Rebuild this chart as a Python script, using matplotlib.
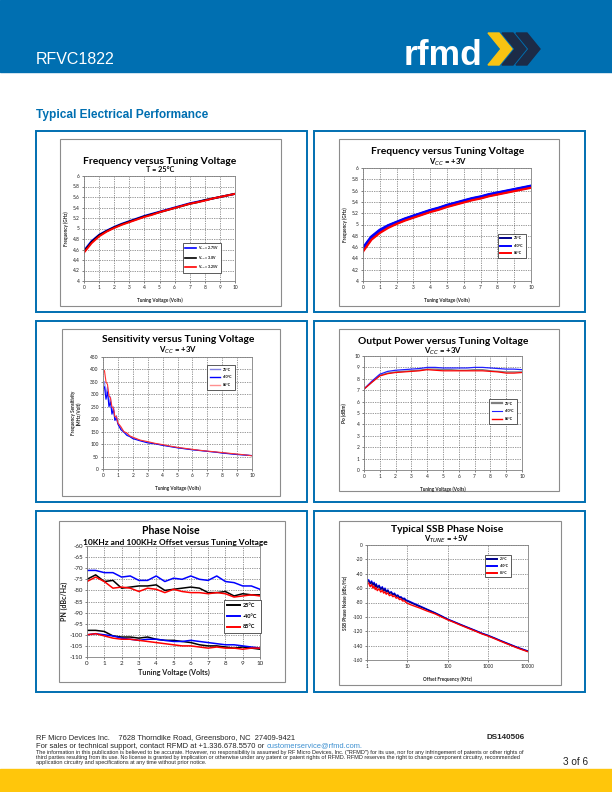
import matplotlib
matplotlib.use('Agg')
import matplotlib.pyplot as plt
from matplotlib.patches import Rectangle, Polygon
from matplotlib.lines import Line2D

plt.rcParams['axes.unicode_minus'] = False

# ---------------- data ----------------
vt = [0, 0.5, 1, 1.5, 2, 2.5, 3, 3.5, 4, 4.5, 5, 5.5, 6, 6.5, 7, 7.5, 8, 8.5, 9, 9.5, 10]

# frequency (GHz) vs tuning voltage, T = 25C, three supply voltages
f_275 = [4.58, 4.76, 4.88, 4.96, 5.03, 5.09, 5.14, 5.19, 5.24, 5.28, 5.32, 5.36, 5.40, 5.44, 5.48, 5.51, 5.54, 5.57, 5.60, 5.63, 5.66]
f_300 = [4.56, 4.74, 4.87, 4.95, 5.02, 5.08, 5.13, 5.18, 5.23, 5.27, 5.31, 5.35, 5.39, 5.43, 5.47, 5.50, 5.54, 5.57, 5.60, 5.63, 5.66]
f_325 = [4.54, 4.72, 4.85, 4.94, 5.01, 5.07, 5.12, 5.17, 5.22, 5.26, 5.31, 5.35, 5.39, 5.43, 5.47, 5.50, 5.53, 5.57, 5.60, 5.63, 5.66]

# frequency vs tuning voltage, Vcc = 3V, three temperatures
ft_25 = [4.56, 4.76, 4.88, 4.97, 5.03, 5.09, 5.14, 5.19, 5.24, 5.28, 5.33, 5.37, 5.41, 5.45, 5.48, 5.52, 5.55, 5.58, 5.61, 5.64, 5.67]
ft_m40 = [4.58, 4.78, 4.90, 4.98, 5.04, 5.10, 5.15, 5.20, 5.25, 5.29, 5.34, 5.38, 5.42, 5.46, 5.49, 5.53, 5.56, 5.59, 5.62, 5.65, 5.68]
ft_85 = [4.52, 4.73, 4.85, 4.94, 5.01, 5.07, 5.12, 5.17, 5.22, 5.26, 5.31, 5.35, 5.39, 5.43, 5.46, 5.50, 5.53, 5.56, 5.59, 5.62, 5.65]

# sensitivity (MHz/V)
sens_v = [0.1, 0.2, 0.3, 0.4, 0.5, 0.6, 0.7, 0.8, 0.9, 1.0, 1.2, 1.4, 1.6, 1.8, 2.0, 2.5, 3.0, 3.5, 4.0, 4.5,
          5, 5.5, 6, 6.5, 7, 7.5, 8, 8.5, 9, 9.5, 10]
sens_25 = [350, 300, 330, 260, 290, 230, 250, 200, 215, 185, 165, 150, 140, 132, 125, 115, 107, 102, 96, 91,
           86, 82, 78, 75, 71, 68, 65, 62, 59, 57, 54]
sens_m40 = [330, 280, 310, 250, 270, 220, 240, 195, 205, 180, 158, 148, 135, 130, 122, 113, 105, 101, 95, 90,
            85, 81, 77, 74, 71, 68, 64, 61, 58, 56, 54]
sens_85 = [395, 350, 340, 295, 285, 250, 245, 210, 210, 185, 170, 150, 145, 133, 128, 116, 110, 103, 98, 92,
           87, 83, 79, 75, 72, 69, 66, 63, 60, 57, 53]

# output power (dBm)
po_25 = [7.1, 7.7, 8.3, 8.5, 8.6, 8.65, 8.7, 8.75, 8.85, 8.85, 8.8, 8.8, 8.75, 8.75, 8.8, 8.8, 8.7, 8.65, 8.6, 8.6, 8.6]
po_m40 = [7.1, 7.8, 8.4, 8.65, 8.75, 8.8, 8.85, 8.9, 9.0, 9.0, 8.95, 8.95, 8.95, 8.95, 9.0, 9.0, 8.95, 8.9, 8.85, 8.85, 8.8]
po_85 = [7.1, 7.7, 8.25, 8.45, 8.55, 8.6, 8.65, 8.7, 8.8, 8.75, 8.7, 8.7, 8.7, 8.7, 8.7, 8.7, 8.65, 8.6, 8.5, 8.5, 8.55]

# phase noise at 10 kHz (upper) and 100 kHz (lower) offsets
pn10_25 = [-75, -73, -76, -75.5, -79, -78.5, -78, -78, -77.5, -80, -79.5, -79, -78.5, -79, -81, -81, -80.5, -82.5, -81.5, -82, -82]
pn10_m40 = [-71, -71, -72, -72, -74, -73.5, -75.5, -75.5, -73.5, -76, -74.5, -75, -73.5, -75, -75.5, -73.5, -76, -76.5, -78, -78, -79.5]
pn10_85 = [-76, -74, -76, -79, -78.5, -79, -80.5, -79, -79.5, -81, -79.5, -80.5, -81, -81, -81.5, -81, -81.5, -83, -82.5, -82, -82.5]
pn100_25 = [-98, -98, -98.5, -100.5, -101, -101, -101.5, -101, -102, -102.5, -102.5, -103, -103.5, -104.5, -105, -105, -105.5, -106, -105.5, -106, -106.5]
pn100_m40 = [-100, -99.5, -100, -100.5, -101.5, -102, -102.5, -102, -102, -102.5, -103, -103, -102.5, -103, -103.5, -104, -104.5, -104.5, -105, -105.5, -106]
pn100_85 = [-100, -99.5, -100.5, -101.5, -102, -102, -102.5, -103, -103.5, -104, -104.5, -105, -105, -105.5, -106, -105.5, -106, -106, -106.5, -106, -106]

# SSB phase noise, Vtune = +5V
ssb_f = [1.1, 1.2, 1.3, 1.4, 1.5, 1.6, 1.7, 1.8, 2.0, 2.2, 2.4, 2.6, 2.8, 3.0, 3.3, 3.6, 4.0, 4.4, 4.8, 5.3,
         5.8, 6.4, 7.0, 7.7, 8.5, 9.3, 10, 12, 15, 20, 30, 50, 70, 100, 150, 200, 300, 500, 700, 1000,
         1500, 2000, 3000, 5000, 7000, 10000]
ssb_m40 = [-48.5, -53, -50, -55, -52, -57, -54, -58.5, -56, -61, -58, -63, -60, -64.5, -62.5, -66.5, -65, -68.5, -67, -70.5,
           -69.5, -72.5, -72, -74.5, -74, -76.5, -77, -79, -81.5, -84.5, -89, -94.5, -98.5, -103, -107, -110, -114, -119, -122.5, -125.5,
           -129.5, -132.5, -136.5, -141.5, -144.5, -147.5]
ssb_25 = [-50, -54, -51.5, -56, -53.5, -58, -55.5, -59.5, -57.5, -62, -59.5, -64, -61.5, -65.5, -63.5, -67.5, -66, -69.5, -68, -71.5,
          -70.5, -73.5, -73, -75.5, -75, -77.5, -78, -80, -82.5, -85.5, -89.5, -95, -99, -103.5, -107.5, -110.5, -114.5, -119.5, -123, -126,
          -130, -133, -137, -142, -145, -148]
ssb_85 = [-53, -58, -55, -60, -57, -62, -59, -63.5, -61, -65.5, -63, -67, -65, -68.5, -66.5, -70.5, -69, -72, -70.5, -74,
          -73, -76, -75, -78, -77.5, -80, -81, -83, -85, -87.5, -91.5, -96, -100, -104, -108, -111, -115, -120, -123.5, -126.5,
          -130.5, -133.5, -137.5, -142.5, -145.5, -148.5]

temps = ['25°C', '-40°C', '85°C']
vcc_labels = ['V$_{CC}$ = 2.75V', 'V$_{CC}$ = 3.0V', 'V$_{CC}$ = 3.25V']

# ---------------- figure ----------------
W, H = 612, 792
fig = plt.figure(figsize=(6.12, 7.92), dpi=100)
CH = 'Lato'      # chart font
PG = 'Liberation Sans'  # page font
BLUE = '#006fb1'


def fx(x):
    return x / W


def fy(y):
    return 1 - y / H


def rect(x0, y0, x1, y1, **kw):
    fig.add_artist(Rectangle((fx(x0), fy(y1)), (x1 - x0) / W, (y1 - y0) / H,
                             transform=fig.transFigure, **kw))


def add_ax(x0, x1, y0, y1):
    ax = fig.add_axes([fx(x0), fy(y1), (x1 - x0) / W, (y1 - y0) / H])
    ax.set_zorder(2)
    return ax


def style(ax, fs=3.5):
    ax.set_facecolor('white')
    ax.grid(True, color='#333333', linestyle=(0, (1.2, 1.6)), linewidth=0.45)
    for s in ax.spines.values():
        s.set_color('#808080')
        s.set_linewidth(0.6)
    ax.tick_params(labelsize=fs, length=1.5, width=0.4, pad=1.5, colors='#222222')
    for lb in ax.get_xticklabels() + ax.get_yticklabels():
        lb.set_family(CH)


def text(x, y, s, **kw):
    fig.text(fx(x), fy(y), s, zorder=3, **kw)


def legend(ax, handles, labels, x0, y0, fs=2.8, **kw):
    lg = ax.legend(handles, labels, loc='upper left', bbox_to_anchor=(fx(x0), fy(y0)),
                   bbox_transform=fig.transFigure, frameon=True, fancybox=False,
                   edgecolor='#404040', framealpha=1, borderaxespad=0,
                   prop={'family': CH, 'size': fs, 'weight': 'bold'}, **kw)
    lg.get_frame().set_linewidth(0.6)
    return lg


# header band
rect(0, 0, 612, 72, color=BLUE, zorder=0)
text(36, 64, 'RFVC1822', color='white', fontsize=11.5, family=PG, va='baseline')
text(404, 65, 'rfmd', color='white', fontsize=25.5, family=PG, weight='bold', va='baseline')
for off, col in [(28, '#1c2b47'), (14, '#1c2b47'), (0, '#f8c312')]:
    pts = [(488 + off, 33), (499 + off, 33), (512 + off, 49), (499 + off, 65), (488 + off, 65), (501 + off, 49)]
    fig.add_artist(Polygon([(fx(a), fy(b)) for a, b in pts], closed=True, transform=fig.transFigure,
                           color=col, zorder=1))
text(36, 115, 'Typical Electrical Performance', color=BLUE, fontsize=8.6, family=PG, weight='bold', va='center')

# panel frames and inner chart boxes
for px0, px1 in [(36, 307), (314, 585)]:
    for py0 in [131, 321, 511]:
        rect(px0, py0, px1, py0 + 181, fill=False, edgecolor=BLUE, linewidth=1.4, zorder=1)
inner = [(60, 139, 281, 306), (339, 139, 559, 306), (62, 329, 280, 496),
         (339, 329, 559, 491), (59, 521, 285, 682), (339, 521, 561, 685)]
for a, b, c, d in inner:
    rect(a, b, c, d, facecolor='white', edgecolor='#8c8c8c', linewidth=0.8, zorder=1)

title_kw = dict(family=CH, weight='bold', ha='center', va='center', color='black')
lab_kw = dict(family=CH, weight='bold', color='#222222')
f_ticks = [4, 4.2, 4.4, 4.6, 4.8, 5, 5.2, 5.4, 5.6, 5.8, 6]
f_tlabs = ['4', '4.2', '4.4', '4.6', '4.8', '5', '5.2', '5.4', '5.6', '5.8', '6']

# ---- chart 1: frequency vs Vtune, T = 25C
ax = add_ax(84, 235, 176, 281)
for ys, c in zip([f_275, f_300, f_325], ['#0000ff', 'black', '#ff0000']):
    ax.plot(vt, ys, color=c, lw=1.4)
ax.set_xlim(0, 10); ax.set_ylim(4, 6)
ax.set_xticks(range(0, 11)); ax.set_yticks(f_ticks); ax.set_yticklabels(f_tlabs)
style(ax)
ax.set_xlabel('Tuning Voltage (Volts)', fontsize=3.3, labelpad=5, **lab_kw)
ax.set_ylabel('Frequency (GHz)', fontsize=3.3, labelpad=3, **lab_kw)
legend(ax, [Line2D([], [], color=c, lw=1.2) for c in ['#0000ff', 'black', '#ff0000']], vcc_labels,
       183, 243, fs=2.5, handlelength=3.2, labelspacing=0.55, borderpad=0.45)
text(160, 161, 'Frequency versus Tuning Voltage', fontsize=7.4, **title_kw)
text(160, 170, 'T = 25°C', fontsize=5.2, **title_kw)

# ---- chart 2: frequency vs Vtune, Vcc = 3V
ax = add_ax(363, 531, 168, 281)
cols2 = ['#00008b', '#0000ff', '#ff0000']
for ys, c, lw in zip([ft_25, ft_m40, ft_85], cols2, [2.4, 2.2, 1.6]):
    ax.plot(vt, ys, color=c, lw=lw)
ax.set_xlim(0, 10); ax.set_ylim(4, 6)
ax.set_xticks(range(0, 11)); ax.set_yticks(f_ticks); ax.set_yticklabels(f_tlabs)
style(ax)
ax.set_xlabel('Tuning Voltage (Volts)', fontsize=3.3, labelpad=5, **lab_kw)
ax.set_ylabel('Frequency (GHz)', fontsize=3.3, labelpad=3, **lab_kw)
legend(ax, [Line2D([], [], color=c, lw=1.4) for c in cols2], temps,
       498, 234, fs=2.6, handlelength=3.0, labelspacing=1.0, borderpad=0.6)
text(448, 151, 'Frequency versus Tuning Voltage', fontsize=7.4, **title_kw)
text(448, 162, 'V$_{CC}$ = +3V', fontsize=5.6, **title_kw)

# ---- chart 3: sensitivity
ax = add_ax(103, 252, 357, 469)
cols3 = ['#7f7fff', '#0000ff', '#ff3030']
for ys, c in zip([sens_25, sens_m40, sens_85], cols3):
    ax.plot(sens_v, ys, color=c, lw=0.8)
ax.set_xlim(0, 10); ax.set_ylim(0, 450)
ax.set_xticks(range(0, 11)); ax.set_yticks(range(0, 451, 50))
style(ax)
ax.set_xlabel('Tuning Voltage (Volts)', fontsize=3.3, labelpad=5, **lab_kw)
ax.set_ylabel('Frequency Sensitivity\n(MHz/Volt)', fontsize=3.3, labelpad=6, **lab_kw)
legend(ax, [Line2D([], [], color=c, lw=1.0) for c in ['#8080e0', '#0000ff', '#ff9090']], temps,
       207, 365, fs=2.6, handlelength=3.0, labelspacing=1.1, borderpad=0.7)
text(178, 340, 'Sensitivity versus Tuning Voltage', fontsize=7.4, **title_kw)
text(178, 350, 'V$_{CC}$ = +3V', fontsize=5.6, **title_kw)

# ---- chart 4: output power
ax = add_ax(364, 522, 356, 470)
cols4 = ['#7f7f7f', '#2020ff', '#ff0000']
for ys, c, lw in zip([po_25, po_m40, po_85], cols4, [1.0, 0.9, 0.9]):
    ax.plot(vt, ys, color=c, lw=lw)
ax.set_xlim(0, 10); ax.set_ylim(0, 10)
ax.set_xticks(range(0, 11)); ax.set_yticks(range(0, 11))
style(ax)
ax.set_xlabel('Tuning Voltage (Volts)', fontsize=3.3, labelpad=5, **lab_kw)
ax.set_ylabel('Po (dBm)', fontsize=3.6, labelpad=5, **lab_kw)
legend(ax, [Line2D([], [], color=c, lw=lw) for c, lw in zip(cols4, [1.6, 0.8, 1.0])], temps,
       489, 399, fs=2.6, handlelength=3.0, labelspacing=1.1, borderpad=0.7)
text(443, 341, 'Output Power versus Tuning Voltage', fontsize=7.4, **title_kw)
text(443, 351, 'V$_{CC}$ = +3V', fontsize=5.6, **title_kw)

# ---- chart 5: phase noise vs Vtune
ax = add_ax(87, 260, 546, 657)
cols5 = ['black', '#0000ff', '#ff0000']
for ys, c in zip([pn10_25, pn10_m40, pn10_85], cols5):
    ax.plot(vt, ys, color=c, lw=1.1)
for ys, c in zip([pn100_25, pn100_m40, pn100_85], cols5):
    ax.plot(vt, ys, color=c, lw=1.1)
ax.set_xlim(0, 10); ax.set_ylim(-110, -60)
ax.set_xticks(range(0, 11)); ax.set_yticks(range(-110, -59, 5))
style(ax, fs=4.5)
ax.set_xlabel('Tuning Voltage (Volts)', fontsize=5.2, labelpad=1.5, **lab_kw)
ax.set_ylabel('PN (dBc/Hz)', fontsize=5.0, labelpad=1.5, **lab_kw)
legend(ax, [Line2D([], [], color=c, lw=1.4) for c in cols5], temps,
       224, 600, fs=4.0, handlelength=2.2, handletextpad=0.6, labelspacing=1.0, borderpad=0.6)
text(171, 530, 'Phase Noise', fontsize=7.6, **title_kw)
text(175, 542, '10KHz and 100KHz Offset versus Tuning Voltage', fontsize=6.0, **title_kw)

# ---- chart 6: SSB phase noise
ax = add_ax(367, 528, 545, 660)
cols6 = ['#0000ff', '#00008b', '#ff0000']
for ys, c in zip([ssb_m40, ssb_25, ssb_85], cols6):
    ax.plot(ssb_f, ys, color=c, lw=1.0)
ax.set_xscale('log')
ax.set_xlim(1, 10000); ax.set_ylim(-160, 0)
ax.set_xticks([1, 10, 100, 1000, 10000]); ax.set_xticklabels(['1', '10', '100', '1000', '10000'])
ax.minorticks_off()
ax.set_yticks(range(-160, 1, 20))
style(ax)
ax.set_xlabel('Offset Frequency (KHz)', fontsize=3.3, labelpad=5, **lab_kw)
ax.set_ylabel('SSB Phase Noise (dBc/Hz)', fontsize=3.3, labelpad=3, **lab_kw)
legend(ax, [Line2D([], [], color=c, lw=1.4) for c in ['#00008b', '#0000ff', '#ff0000']], temps,
       485, 555, fs=2.4, handlelength=3.0, labelspacing=0.9, borderpad=0.6)
text(447, 529, 'Typical SSB Phase Noise', fontsize=7.4, **title_kw)
text(447, 539, 'V$_{TUNE}$ = +5V', fontsize=5.6, **title_kw)

# ---------------- footer ----------------
ft = dict(family=PG, color='#222222', va='baseline')
text(36, 739, 'RF Micro Devices Inc.    7628 Thorndike Road, Greensboro, NC  27409-9421', fontsize=5.4, **ft)
t2 = fig.text(fx(36), fy(747.5), 'For sales or technical support, contact RFMD at +1.336.678.5570 or ',
              fontsize=5.4, **ft)
fig.canvas.draw()
bb = t2.get_window_extent(fig.canvas.get_renderer())
fig.text(bb.x1 / W, fy(747.5), 'customerservice@rfmd.com.', fontsize=5.4, family=PG, color='#3b8fd0', va='baseline')
text(487, 739, 'DS140506', fontsize=5.8, family=PG, weight='bold', color='#222222', va='baseline')
disc = ['The information in this publication is believed to be accurate. However, no responsibility is assumed by RF Micro Devices, Inc. ("RFMD") for its use, nor for any infringement of patents or other rights of',
        'third parties resulting from its use. No license is granted by implication or otherwise under any patent or patent rights of RFMD. RFMD reserves the right to change component circuitry, recommended',
        'application circuitry and specifications at any time without prior notice.']
for i, line in enumerate(disc):
    text(36, 754 + i * 4.8, line, fontsize=3.95, **ft)
text(563, 765, '3 of 6', fontsize=7.2, family=PG, color='#222222', va='baseline')
rect(0, 769, 612, 792, color='#ffc60b', zorder=0)

fig.savefig('out.png', dpi=100)
